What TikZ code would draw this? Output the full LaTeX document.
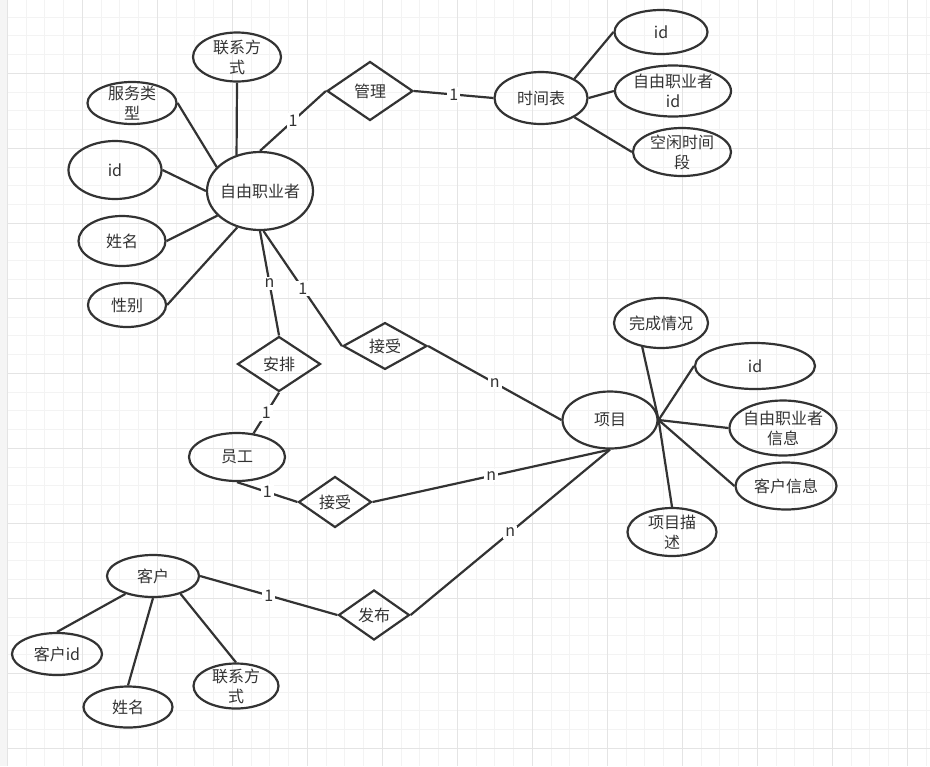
\documentclass[tikz,border=0pt]{standalone}
\usepackage{fontspec}
\setmainfont{Noto Sans CJK SC}
\usetikzlibrary{shapes.geometric}
\definecolor{erline}{HTML}{333333}
\definecolor{gridminor}{HTML}{F3F3F3}
\definecolor{gridmajor}{HTML}{E4E4E4}

\tikzset{
    er attr/.style 2 args={
        draw=erline,line width=1.1pt,ellipse,
        minimum width=#1*.5pt,minimum height=#2*.5pt,
        inner sep=-15pt,align=center,text=erline
    },
    er rel/.style 2 args={
        draw=erline,line width=1.1pt,diamond,
        minimum width=#1*.5pt,minimum height=#2*.5pt,
        inner sep=0pt,text=erline
    },
    er line/.style={draw=erline,line width=1.1pt},
    card/.style={fill=white,inner sep=1pt,text=erline}
}

\begin{document}
\begin{tikzpicture}[x=.5pt,y=-.5pt,font=\fontsize{8pt}{10pt}\selectfont]
    \useasboundingbox (0,0) rectangle (930,766);
    \fill[gray!8] (0,0) rectangle (7,766);
    \foreach \i in {0,...,49}
        \draw[gridminor,line width=.5pt] (7.3+18.75*\i,0) -- ++(0,766);
    \foreach \j in {1,...,40}
        \draw[gridminor,line width=.5pt] (7,-1.7+18.75*\j) -- (930,-1.7+18.75*\j);
    \foreach \i in {0,...,12}
        \draw[gridmajor,line width=.8pt] (7.3+75*\i,0) -- ++(0,766);
    \foreach \j in {1,...,10}
        \draw[gridmajor,line width=.8pt] (7,-1.7+75*\j) -- (930,-1.7+75*\j);

    \node[er attr={106}{78}] (freelancer) at (260,191) {自由职业者};
    \node[er attr={88}{49}] (flcontact) at (237,57) {联系方\\式};
    \node[er attr={89}{42}] (flservice) at (132,103) {服务类\\型};
    \node[er attr={93}{58}] (flid) at (115,170) {id};
    \node[er attr={87}{50}] (flname) at (122,241) {姓名};
    \node[er attr={78}{44}] (flgender) at (127,305) {性别};

    \node[er rel={86}{59}] (manage) at (370,91) {管理};
    \node[er attr={93}{52}] (schedule) at (541,98) {时间表};
    \node[er attr={93}{44}] (scid) at (661,32) {id};
    \node[er attr={116}{51}] (scflid) at (673,91) {自由职业者\\id};
    \node[er attr={98}{48}] (scfree) at (682,152) {空闲时间\\段};

    \node[er rel={83}{55}] (arrange) at (279,364) {安排};
    \node[er rel={84}{46}] (acceptfl) at (385,346) {接受};
    \node[er attr={96}{48}] (staff) at (237,457) {员工};
    \node[er rel={73}{51}] (acceptst) at (335,502) {接受};

    \node[er attr={95}{57}] (project) at (610,420) {项目};
    \node[er attr={94}{50}] (pjstatus) at (661,323) {完成情况};
    \node[er attr={120}{46}] (pjid) at (755,366) {id};
    \node[er attr={107}{55}] (pjflinfo) at (783,428) {自由职业者\\信息};
    \node[er attr={101}{47}] (pjclinfo) at (786,486) {客户信息};
    \node[er attr={89}{48}] (pjdesc) at (672,532) {项目描\\述};

    \node[er attr={92}{42}] (client) at (153,576) {客户};
    \node[er rel={71}{50}] (publish) at (374,615) {发布};
    \node[er attr={90}{42}] (clid) at (57,654) {客户id};
    \node[er attr={89}{41}] (clname) at (128,707) {姓名};
    \node[er attr={85}{45}] (clcontact) at (236,686) {联系方\\式};

    \draw[er line] (flcontact.south) -- (freelancer.123);
    \draw[er line] (flservice.east) -- (freelancer.151);
    \draw[er line] (flid.east) -- (freelancer.west);
    \draw[er line] (flname.east) -- (freelancer.210);
    \draw[er line] (flgender.east) -- (freelancer.238);

    \draw[er line] (freelancer.north) -- node[card] {1} (manage.west);
    \draw[er line] (manage.east) -- node[card] {1} (schedule.west);
    \draw[er line] (schedule.30) -- (scid.west);
    \draw[er line] (schedule.east) -- (scflid.west);
    \draw[er line] (schedule.-30) -- (scfree.west);

    \draw[er line] (freelancer.south) -- node[card] {n} (arrange.north);
    \draw[er line] (freelancer.-85) -- node[card] {1} (acceptfl.west);
    \draw[er line] (acceptfl.east) -- node[card] {n} (project.west);
    \draw[er line] (arrange.south) -- node[card] {1} (staff.55);
    \draw[er line] (staff.south) -- node[card] {1} (acceptst.west);
    \draw[er line] (acceptst.east) -- node[card] {n} (project.south);

    \draw[er line] (pjstatus.232) -- (project.east);
    \draw[er line] (project.east) -- (pjid.west);
    \draw[er line] (project.east) -- (pjflinfo.west);
    \draw[er line] (project.east) -- (pjclinfo.west);
    \draw[er line] (project.east) -- (pjdesc.north);

    \draw[er line] (client.east) -- node[card] {1} (publish.west);
    \draw[er line] (publish.east) -- node[card] {n} (project.south);
    \draw[er line] (clid.north) -- (client.213);
    \draw[er line] (clname.north) -- (client.south);
    \draw[er line] (clcontact.north) -- (client.-33);
\end{tikzpicture}
\end{document}
